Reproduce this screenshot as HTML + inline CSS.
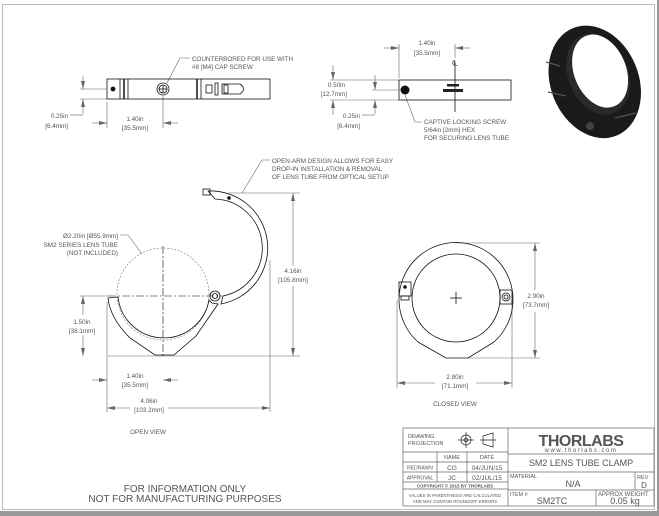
<!DOCTYPE html>
<html><head><meta charset="utf-8"><style>
html,body{margin:0;padding:0;background:#fff}
svg{display:block}
text{font-family:"Liberation Sans",sans-serif;fill:#555}
</style></head><body>
<svg width="659" height="516" viewBox="0 0 659 516" xmlns="http://www.w3.org/2000/svg">
<defs>
<marker id="a" markerWidth="8" markerHeight="6" refX="8" refY="3" orient="auto" markerUnits="userSpaceOnUse"><path d="M0,1 L8,3 L0,5z" fill="#666"/></marker>
</defs>
<rect x="0" y="0" width="659" height="516" fill="#fff"/>
<rect x="657" y="0" width="2" height="516" fill="#999"/>
<rect x="0" y="511" width="659" height="5" fill="#999"/>
<rect x="2.5" y="4.5" width="652" height="505" fill="none" stroke="#bbb" stroke-width="1"/>

<g stroke="#666" stroke-width="0.6" fill="none">
<line x1="80" y1="89" x2="107" y2="89"/><line x1="80" y1="99" x2="107" y2="99"/>
<line x1="83" y1="76" x2="83" y2="89" marker-end="url(#a)"/><line x1="83" y1="114" x2="83" y2="99" marker-end="url(#a)"/>
<line x1="70" y1="115" x2="83" y2="115"/>
<line x1="107" y1="102" x2="107" y2="128"/><line x1="163" y1="96" x2="163" y2="128"/>
<line x1="92" y1="123" x2="107" y2="123" marker-end="url(#a)"/><line x1="178" y1="123" x2="163" y2="123" marker-end="url(#a)"/>
<polyline points="167,83 180,58 190,58"/>
<line x1="399" y1="44" x2="399" y2="78"/><line x1="455" y1="44" x2="455" y2="58"/>
<line x1="384" y1="48" x2="399" y2="48" marker-end="url(#a)"/><line x1="470" y1="48" x2="455" y2="48" marker-end="url(#a)"/>
<line x1="330" y1="80" x2="399" y2="80"/><line x1="330" y1="100" x2="399" y2="100"/><line x1="372" y1="90" x2="399" y2="90"/>
<line x1="333" y1="65" x2="333" y2="80" marker-end="url(#a)"/><line x1="333" y1="115" x2="333" y2="100" marker-end="url(#a)"/>
<line x1="375" y1="75" x2="375" y2="90" marker-end="url(#a)"/><line x1="375" y1="114" x2="375" y2="100" marker-end="url(#a)"/>
<line x1="362" y1="115" x2="375" y2="115"/>
<polyline points="405,95 415,122 422,122"/>
<line x1="228" y1="193" x2="300" y2="193"/><line x1="108" y1="356" x2="300" y2="356"/>
<line x1="293" y1="266" x2="293" y2="193" marker-end="url(#a)"/><line x1="293" y1="286" x2="293" y2="356" marker-end="url(#a)"/>
<line x1="80" y1="296" x2="108" y2="296"/>
<line x1="83" y1="315" x2="83" y2="296" marker-end="url(#a)"/><line x1="83" y1="335" x2="83" y2="356" marker-end="url(#a)"/>
<line x1="107" y1="302" x2="107" y2="412"/><line x1="270" y1="260" x2="270" y2="412"/>
<line x1="92" y1="380" x2="107" y2="380" marker-end="url(#a)"/><line x1="178" y1="380" x2="163" y2="380" marker-end="url(#a)"/>
<line x1="130" y1="408" x2="107" y2="408" marker-end="url(#a)"/><line x1="168" y1="408" x2="270" y2="408" marker-end="url(#a)"/>
<polyline points="120,235 128,235 142,254"/>
<polyline points="242,193 262,160 270,160"/>
<line x1="456" y1="243" x2="540" y2="243"/><line x1="468" y1="358" x2="540" y2="358"/>
<line x1="535" y1="290" x2="535" y2="243" marker-end="url(#a)"/><line x1="535" y1="312" x2="535" y2="358" marker-end="url(#a)"/>
<line x1="397" y1="300" x2="397" y2="388"/><line x1="512" y1="300" x2="512" y2="388"/>
<line x1="435" y1="383" x2="397" y2="383" marker-end="url(#a)"/><line x1="476" y1="383" x2="512" y2="383" marker-end="url(#a)"/>
</g>

<g stroke="#111" stroke-width="0.8" fill="none">
<rect x="107" y="79" width="163" height="20"/>
<line x1="120" y1="79" x2="120" y2="99"/><line x1="124" y1="79" x2="124" y2="99" stroke-width="1.5"/><line x1="128" y1="79" x2="128" y2="99"/>
<line x1="197" y1="79" x2="197" y2="99" stroke-width="1.5"/><line x1="201" y1="79" x2="201" y2="99"/>
<circle cx="163" cy="89" r="6"/><circle cx="163" cy="89" r="4"/>
<line x1="159" y1="89" x2="167" y2="89"/><line x1="163" y1="85" x2="163" y2="93"/>
<rect x="206" y="85" width="6" height="8"/><rect x="215" y="83" width="3" height="12"/>
<path d="M222,84 L240,84 Q247,89 240,94 L222,94 Z"/><rect x="224" y="85" width="4" height="8"/>
</g>
<circle cx="113" cy="89" r="2.4" fill="#111"/>

<g stroke="#111" stroke-width="0.8" fill="none">
<rect x="399" y="80" width="112" height="20"/>
<line x1="455" y1="62" x2="455" y2="112"/>
</g>
<circle cx="405" cy="90" r="4.5" fill="#111"/>
<rect x="447" y="84" width="12" height="2.5" fill="#222"/><rect x="443" y="89" width="20" height="3" fill="#222"/>
<text x="455" y="66" font-size="8" text-anchor="middle" fill="#c33">℄</text>

<!-- photo ring -->
<g transform="rotate(-22 594 80)">
<ellipse cx="594" cy="82" rx="44" ry="58" fill="#1a1a1a"/>
<ellipse cx="600" cy="76" rx="30" ry="42" fill="#2a2a2a"/>
<ellipse cx="603" cy="74" rx="26" ry="38" fill="#fff"/>
</g>
<path d="M546,62 L560,66 M548,92 L566,96 M615,118 L636,113" stroke="#555" stroke-width="1.2"/>
<circle cx="590" cy="126" r="4" fill="#444"/>

<!-- open view -->
<circle cx="163" cy="294" r="46" fill="none" stroke="#777" stroke-width="0.6" stroke-dasharray="2,1.5"/>
<g stroke="#111" stroke-width="0.6" fill="none" stroke-dasharray="8,2,2,2">
<line x1="163" y1="246" x2="163" y2="356"/><line x1="108" y1="296" x2="222" y2="296"/>
</g>
<g stroke="#111" stroke-width="0.8" fill="none">
<path d="M108,298 L118,297 A46,46 0 0 0 209,300 L212,303 L218,304 L196,336 L174,355 L155,355 L130,338 Q110,318 108,298 Z"/>
<path d="M221,304 A57,57 0 0 0 208,191 L215,199 A49,49 0 0 1 223,296 Z"/>
<rect x="203" y="189" width="7" height="6"/>
<circle cx="215" cy="296" r="5"/><circle cx="215" cy="296" r="2.6"/>
</g>
<circle cx="229" cy="198" r="1.8" fill="#111"/>

<!-- closed view -->
<g stroke="#111" stroke-width="0.8" fill="none">
<path d="M446,358 L468,358 L494,342 A57,57 0 1 0 418,342 Z"/>
<circle cx="456" cy="298" r="44"/>
<rect x="399" y="282" width="12" height="14"/><rect x="401" y="296" width="8" height="4"/>
<rect x="500" y="290" width="12" height="14"/>
<circle cx="506" cy="297" r="4"/><circle cx="506" cy="297" r="2"/>
<line x1="450" y1="298" x2="462" y2="298"/><line x1="456" y1="292" x2="456" y2="304"/>
</g>
<circle cx="405" cy="287" r="1.8" fill="#111"/>

<g font-size="6.3">
<text x="192" y="61">COUNTERBORED FOR USE WITH</text>
<text x="192" y="69">#8 [M4] CAP SCREW</text>
<text x="68" y="118" text-anchor="end">0.25in</text>
<text x="68" y="128" text-anchor="end">[6.4mm]</text>
<text x="135" y="121" text-anchor="middle">1.40in</text>
<text x="135" y="130" text-anchor="middle">[35.5mm]</text>
<text x="427" y="45" text-anchor="middle">1.40in</text>
<text x="427" y="55" text-anchor="middle">[35.5mm]</text>
<text x="345" y="87" text-anchor="end">0.50in</text>
<text x="347" y="96" text-anchor="end">[12.7mm]</text>
<text x="360" y="118" text-anchor="end">0.25in</text>
<text x="360" y="128" text-anchor="end">[6.4mm]</text>
<text x="424" y="124">CAPTIVE LOCKING SCREW</text>
<text x="424" y="132">5/64in [2mm] HEX</text>
<text x="424" y="140">FOR SECURING LENS TUBE</text>
<text x="272" y="163">OPEN-ARM DESIGN ALLOWS FOR EASY</text>
<text x="272" y="171">DROP-IN INSTALLATION &amp; REMOVAL</text>
<text x="272" y="179">OF LENS TUBE FROM OPTICAL SETUP</text>
<text x="118" y="238" text-anchor="end">Ø2.20in [Ø55.9mm]</text>
<text x="118" y="247" text-anchor="end">SM2 SERIES LENS TUBE</text>
<text x="118" y="255" text-anchor="end">(NOT INCLUDED)</text>
<text x="293" y="273" text-anchor="middle">4.16in</text>
<text x="293" y="282" text-anchor="middle">[105.8mm]</text>
<text x="82" y="324" text-anchor="middle">1.50in</text>
<text x="82" y="333" text-anchor="middle">[38.1mm]</text>
<text x="135" y="378" text-anchor="middle">1.40in</text>
<text x="135" y="387" text-anchor="middle">[35.5mm]</text>
<text x="149" y="403" text-anchor="middle">4.06in</text>
<text x="149" y="412" text-anchor="middle">[103.2mm]</text>
<text x="148" y="434" text-anchor="middle" fill="#333">OPEN VIEW</text>
<text x="536" y="298" text-anchor="middle">2.90in</text>
<text x="536" y="307" text-anchor="middle">[73.7mm]</text>
<text x="455" y="379" text-anchor="middle">2.80in</text>
<text x="455" y="388" text-anchor="middle">[71.1mm]</text>
<text x="455" y="406" text-anchor="middle" fill="#333">CLOSED VIEW</text>
</g>
<text x="185" y="492" font-size="10" text-anchor="middle" fill="#333">FOR INFORMATION ONLY</text>
<text x="185" y="502" font-size="10" text-anchor="middle" fill="#333">NOT FOR MANUFACTURING PURPOSES</text>

<g stroke="#666" stroke-width="0.7" fill="none">
<rect x="403" y="428" width="251" height="78"/>
<line x1="508" y1="428" x2="508" y2="506"/>
<line x1="403" y1="452" x2="508" y2="452"/>
<line x1="403" y1="462" x2="508" y2="462"/>
<line x1="403" y1="472" x2="508" y2="472"/>
<line x1="403" y1="482" x2="508" y2="482"/>
<line x1="403" y1="489" x2="508" y2="489"/>
<line x1="437" y1="452" x2="437" y2="482"/><line x1="467" y1="452" x2="467" y2="482"/>
<line x1="508" y1="454" x2="654" y2="454"/>
<line x1="508" y1="472" x2="654" y2="472"/>
<line x1="508" y1="490" x2="654" y2="490"/>
<line x1="635" y1="472" x2="635" y2="490"/>
<line x1="596" y1="490" x2="596" y2="506"/>
<circle cx="466" cy="440" r="5" stroke="#222"/><circle cx="466" cy="440" r="2" stroke="#222"/>
<line x1="458" y1="440" x2="474" y2="440" stroke="#222"/><line x1="466" y1="432" x2="466" y2="448" stroke="#222"/>
<path d="M483,436 L493,433 L493,447 L483,444 Z M480,440 L496,440" stroke="#222"/>
</g>
<g font-size="5.5">
<text x="408" y="438" fill="#444">DRAWING</text>
<text x="408" y="445" fill="#444">PROJECTION</text>
<text x="452" y="459" text-anchor="middle">NAME</text>
<text x="487" y="459" text-anchor="middle">DATE</text>
<text x="420" y="469.5" text-anchor="middle" font-size="5">REDRAWN</text>
<text x="420" y="479.5" text-anchor="middle" font-size="5">APPROVAL</text>
<text x="452" y="470" text-anchor="middle" font-size="6.5">CG</text>
<text x="452" y="480" text-anchor="middle" font-size="6.5">JC</text>
<text x="487" y="470" text-anchor="middle" font-size="6.5">04/JUN/15</text>
<text x="487" y="480" text-anchor="middle" font-size="6.5">02/JUL/15</text>
<text x="455" y="487.5" text-anchor="middle" font-size="4.5" font-weight="bold" fill="#333">COPYRIGHT © 2015 BY THORLABS</text>
<text x="455" y="497" text-anchor="middle" font-size="4.3">VALUES IN PARENTHESIS ARE CALCULATED</text>
<text x="455" y="503" text-anchor="middle" font-size="4.3">AND MAY CONTAIN ROUNDOFF ERRORS</text>
<text x="510" y="478">MATERIAL</text>
<text x="637" y="479" font-size="5.5">REV</text>
<text x="510" y="496">ITEM #</text>
<text x="598" y="496" font-size="6">APPROX WEIGHT</text>
</g>
<text x="581" y="446" font-size="16" font-weight="bold" text-anchor="middle" fill="#222" letter-spacing="-0.5">THORLABS</text>
<text x="581" y="452" font-size="6" text-anchor="middle" fill="#444" letter-spacing="1.5">www.thorlabs.com</text>
<text x="581" y="466" font-size="9" text-anchor="middle" fill="#333">SM2 LENS TUBE CLAMP</text>
<text x="573" y="487" font-size="9" text-anchor="middle" fill="#333">N/A</text>
<text x="644" y="488" font-size="8" text-anchor="middle" fill="#333">D</text>
<text x="552" y="504" font-size="9" text-anchor="middle" fill="#333">SM2TC</text>
<text x="625" y="504" font-size="9" text-anchor="middle" fill="#333">0.05 kg</text>
</svg>
</body></html>
